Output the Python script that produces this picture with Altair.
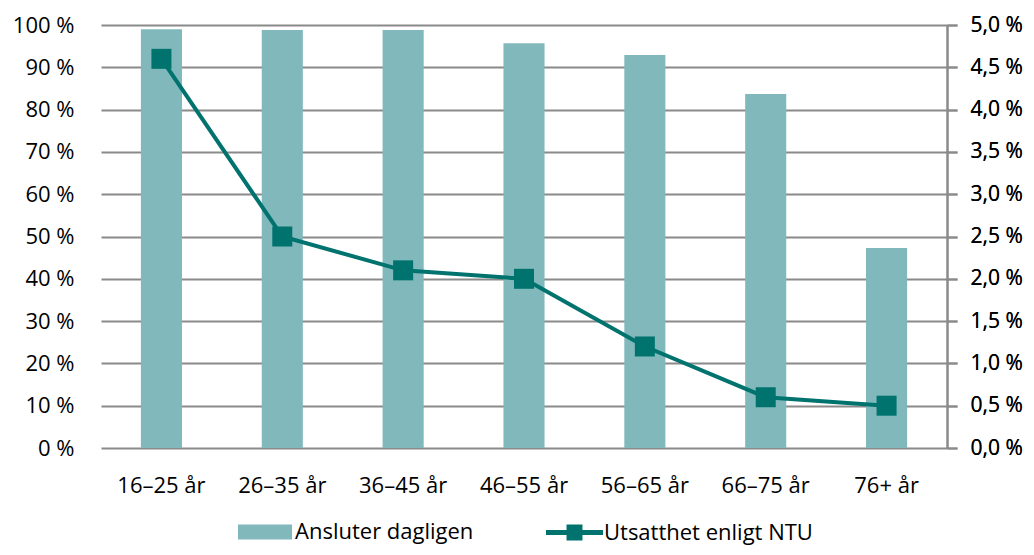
import altair as alt
import pandas as pd

ages = ["16–25 år", "26–35 år", "36–45 år", "46–55 år", "56–65 år", "66–75 år", "76+ år"]
ansluter = [99.0, 98.8, 98.8, 95.7, 92.9, 83.7, 47.3]
utsatthet = [4.6, 2.5, 2.1, 2.0, 1.2, 0.6, 0.5]
bar_name = "Ansluter dagligen"
line_name = "Utsatthet enligt NTU"

BAR = "#80B8BB"
LINE = "#00736F"
GRID = "#8A8A8A"
FONT = "Open Sans"

df = pd.DataFrame({
    "age": ages,
    "ansluter": ansluter,
    "utsatthet": utsatthet,
    "s1": [bar_name] * len(ages),
    "s2": [line_name] * len(ages),
})

x = alt.X("age:N", sort=ages, title=None,
          scale=alt.Scale(paddingInner=0.66, paddingOuter=0.33),
          axis=alt.Axis(labelAngle=0, domain=False, ticks=False, labelPadding=27,
                        labelFontSize=22, labelFont=FONT, labelColor="black"))

base = alt.Chart(df)

bars = base.mark_bar(color=BAR).encode(
    x=x,
    y=alt.Y("ansluter:Q", title=None,
            scale=alt.Scale(domain=[0, 100], nice=False),
            axis=alt.Axis(values=list(range(0, 101, 10)), labelExpr="datum.value + ' %'",
                          grid=True, gridColor=GRID, gridWidth=2, domain=False, ticks=False,
                          labelPadding=27, labelFontSize=22, labelFont=FONT, labelColor="black")),
    color=alt.Color("s1:N", scale=alt.Scale(domain=[bar_name], range=[BAR]),
                    legend=alt.Legend(title=None, orient="none", legendX=137, legendY=480,
                                      symbolType="M-1,-0.28H1V0.28H-1Z", symbolSize=2916,
                                      symbolStrokeWidth=0, labelFontSize=22, labelFont=FONT,
                                      labelColor="black", labelOffset=3, padding=0,
                                      labelLimit=400)),
)

yr = alt.Y("utsatthet:Q", title=None,
           scale=alt.Scale(domain=[0, 5], nice=False),
           axis=alt.Axis(orient="right", values=[i * 0.5 for i in range(11)],
                         labelExpr="replace(format(datum.value, '.1f'), '.', ',') + ' %'",
                         grid=False, domain=True, domainColor=GRID, domainWidth=2,
                         ticks=True, tickColor=GRID, tickWidth=2, tickSize=10,
                         labelPadding=13, labelFontSize=21, labelFont=FONT, labelColor="black"))

line = base.mark_line(color=LINE, strokeWidth=4).encode(x=x, y=yr)

pts = base.mark_square(size=400, filled=True, opacity=1).encode(
    x=x, y=yr,
    color=alt.Color("s2:N", scale=alt.Scale(domain=[line_name], range=[LINE]),
                    legend=alt.Legend(title=None, orient="none", legendX=445, legendY=479,
                                      symbolType="M-1,-0.09H1V0.09H-1Z M-0.28,-0.28H0.28V0.28H-0.28Z",
                                      symbolSize=3249, symbolStrokeWidth=0, symbolOpacity=1,
                                      labelFontSize=22, labelFont=FONT,
                                      labelColor="black", labelOffset=1, padding=0,
                                      labelLimit=400)),
)

chart = alt.layer(bars, line, pts).resolve_scale(y="independent", color="independent").properties(
    width=846, height=423,
    autosize=alt.AutoSizeParams(type="none"),
    padding={"left": 93, "top": 17, "right": 79, "bottom": 99},
).configure_view(stroke=None)

chart.save("out.html", embed_options={"renderer": "svg", "actions": False})
